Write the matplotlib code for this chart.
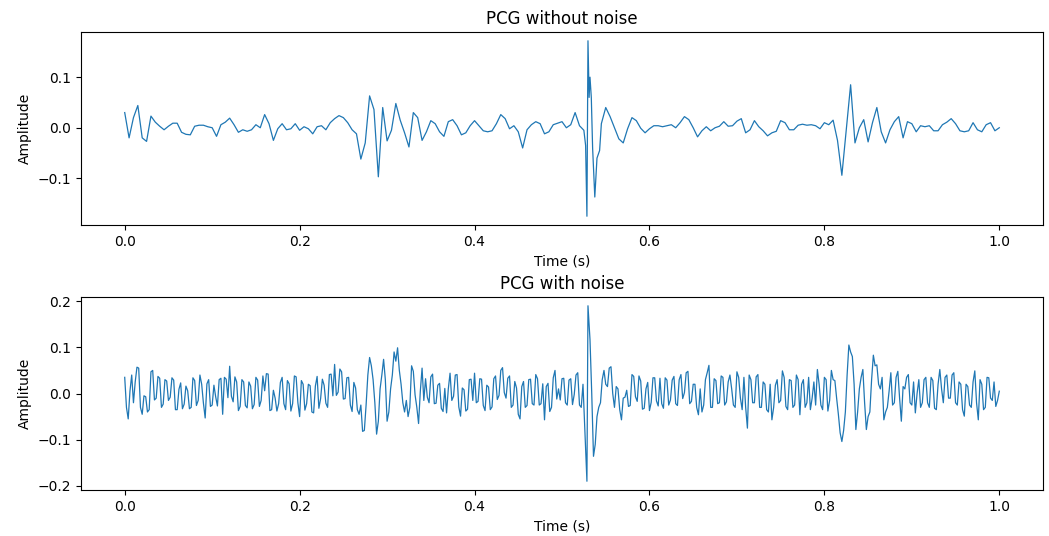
import numpy as np
import matplotlib
matplotlib.use("Agg")
import matplotlib.pyplot as plt

# clean PCG (0.005 s steps, finer around the big spike)
clean_a = [0.030, -0.020, 0.020, 0.044, -0.020, -0.027, 0.023, 0.011, 0.003, -0.004,
           0.003, 0.009, 0.009, -0.009, -0.013, -0.014, 0.003, 0.005, 0.005, 0.002,
           0.000, -0.017, 0.006, 0.011, 0.019, 0.006, -0.009, -0.004, -0.007, -0.004,
           0.006, 0.000, 0.026, 0.008, -0.025, -0.002, 0.008, -0.004, -0.002, 0.008,
           -0.005, 0.002, -0.002, -0.012, 0.002, 0.004, -0.004, 0.010, 0.018, 0.024,
           0.020, 0.010, -0.004, -0.012, -0.062, -0.030, 0.063, 0.036, -0.097, 0.040,
           -0.026, -0.005, 0.048, 0.015, -0.010, -0.038, 0.030, 0.020, -0.025, -0.008,
           0.014, 0.008, -0.008, -0.017, 0.012, 0.016, 0.004, -0.014, -0.010, 0.004,
           0.014, 0.004, -0.006, -0.008, -0.006, 0.008, 0.026, 0.018, -0.002, 0.004,
           -0.008, -0.040, -0.004, 0.006, 0.012, 0.008, -0.012, -0.008, 0.006, 0.009,
           0.012, 0.000, 0.006, 0.030, 0.004, -0.005]
spike_t = [0.527, 0.5285, 0.5297, 0.531, 0.532, 0.5335, 0.535, 0.5375, 0.540, 0.543]
spike_a = [-0.035, -0.175, 0.172, 0.060, 0.100, 0.060, -0.040, -0.137, -0.060, -0.045]
clean_b = [0.008, 0.040, 0.022, 0.000, -0.022, -0.030, -0.002, 0.020, 0.014, -0.001,
           -0.010, -0.002, 0.004, 0.004, 0.002, 0.004, 0.006, 0.000, 0.010, 0.022,
           0.016, 0.000, -0.018, -0.006, 0.002, -0.006, 0.000, 0.003, 0.012, 0.003,
           0.004, 0.013, 0.018, -0.010, -0.004, 0.014, 0.002, -0.006, -0.016, -0.010,
           -0.007, 0.014, 0.010, -0.004, -0.004, 0.005, 0.007, 0.005, 0.006, 0.004,
           -0.002, 0.010, 0.006, 0.015, -0.025, -0.094, -0.005, 0.085, -0.030, 0.000,
           0.016, -0.028, 0.010, 0.040, -0.008, -0.030, -0.004, 0.012, 0.022, -0.020,
           0.012, 0.008, -0.008, 0.004, 0.002, 0.004, -0.006, -0.006, 0.006, 0.011,
           0.018, 0.008, -0.006, -0.008, -0.006, 0.010, -0.004, -0.008, 0.006, 0.010,
           -0.006, 0.000]

# noisy PCG: samples every 0.004 s, mid samples at +0.002 s, two points at the spike
noisy_a = [0.035, -0.055, 0.040, 0.025, 0.055, -0.045, -0.007, -0.035, 0.050, -0.010,
           0.033, -0.023, 0.027, -0.008, 0.029, -0.035, 0.023, -0.023, 0.006, -0.030,
           0.028, -0.015, 0.020, -0.053, 0.030, -0.025, -0.007, 0.030, -0.045, 0.031,
           0.059, -0.018, 0.025, -0.028, 0.025, -0.031, 0.016, -0.024, 0.029, -0.015,
           0.006, 0.042, -0.035, -0.010, -0.022, 0.035, -0.035, 0.021, -0.022, 0.036,
           -0.050, 0.020, -0.022, 0.017, -0.042, 0.037, -0.011, 0.018, -0.030, 0.042,
           0.063, 0.003, 0.047, -0.011, 0.035, -0.039, 0.012, -0.045, -0.082, -0.025,
           0.078, 0.030, -0.088, 0.010, 0.074, -0.060, 0.010, 0.090, 0.099, 0.020,
           -0.040, -0.050, 0.060, -0.003, -0.065, 0.055, 0.032, -0.020, 0.042, -0.021,
           0.022, -0.039, -0.042, 0.044, -0.006, 0.041, -0.049, 0.008, -0.034, 0.031,
           0.044, -0.017, 0.031, -0.037, 0.014, -0.029, 0.038, -0.004, 0.056, -0.010,
           0.038, -0.025, 0.012, -0.055, 0.026, -0.026, 0.031, -0.025, 0.032, -0.022,
           -0.057, 0.022, -0.030, 0.050, 0.010, 0.032, -0.020, 0.029, -0.024, 0.040,
           -0.025, 0.020]
noisy_a_mid = [-0.030, 0.005, -0.020, 0.057, -0.030, -0.005, -0.040, 0.047, -0.014, 0.037,
               -0.030, 0.030, -0.015, 0.034, -0.035, 0.009, -0.033, 0.016, -0.033, 0.034,
               -0.026, 0.040, -0.021, 0.021, -0.028, 0.018, -0.027, 0.033, 0.035, -0.009,
               -0.006, 0.036, -0.037, 0.030, -0.026, 0.025, -0.033, 0.035, -0.028, 0.038,
               0.043, -0.037, 0.007, -0.038, 0.024, -0.022, 0.028, -0.038, 0.038, -0.020,
               0.028, -0.036, 0.020, -0.040, 0.016, -0.032, 0.031, -0.021, 0.041, -0.005,
               -0.004, 0.053, -0.012, 0.034, -0.025, 0.024, -0.035, -0.025, -0.080, 0.040,
               0.060, -0.020, -0.060, 0.040, 0.030, -0.040, 0.040, 0.070, 0.050, -0.020,
               -0.015, -0.030, 0.048, -0.030, 0.005, -0.015, -0.008, 0.036, -0.022, 0.018,
               -0.032, 0.011, 0.010, -0.015, 0.040, -0.029, 0.012, -0.038, 0.030, -0.015,
               -0.020, 0.032, -0.026, 0.018, -0.035, 0.032, -0.013, 0.050, 0.002, 0.033,
               -0.030, 0.026, -0.045, 0.015, -0.030, 0.030, -0.022, 0.041, -0.025, 0.021,
               0.015, -0.039, 0.034, -0.012, -0.014, 0.033, -0.025, 0.032, -0.002, 0.045,
               -0.030]
noisy_spike_t = [0.5285, 0.5297]
noisy_spike_a = [-0.190, 0.190]
noisy_b = [0.117, -0.136, -0.050, -0.020, 0.050, 0.015, 0.058, -0.030, 0.010, -0.057,
           -0.008, -0.028, 0.041, -0.007, 0.038, -0.034, 0.010, -0.037, 0.034, -0.016,
           0.033, -0.032, 0.029, -0.014, 0.037, -0.026, 0.041, 0.002, 0.048, -0.017,
           0.020, -0.046, -0.040, 0.030, 0.061, -0.030, 0.028, -0.020, 0.035, -0.018,
           0.040, -0.025, 0.047, -0.010, 0.035, -0.075, 0.030, -0.020, 0.041, -0.030,
           0.020, -0.040, -0.057, 0.018, -0.020, 0.049, -0.028, 0.030, -0.030, 0.040,
           -0.046, 0.030, -0.020, -0.035, 0.025, 0.052, -0.025, 0.035, -0.038, 0.050,
           0.028, -0.045, -0.104, -0.040, 0.105, 0.080, -0.078, 0.010, 0.052, -0.078,
           -0.040, 0.083, 0.062, 0.010, -0.057, -0.030, 0.045, -0.020, 0.048, -0.060,
           0.010, 0.041, -0.025, -0.042, 0.030, -0.020, 0.035, -0.030, 0.028, -0.035,
           0.052, -0.020, 0.040, -0.010, 0.045, -0.025, 0.020, -0.049, 0.015, -0.030,
           0.049, -0.057, 0.020, -0.030, 0.034, -0.015, -0.028, 0.005]
noisy_b_mid = [0.000, -0.110, -0.030, 0.030, 0.020, 0.055, 0.000, 0.015, -0.035, -0.010,
               0.007, -0.026, 0.037, -0.017, 0.027, -0.032, 0.024, -0.019, 0.034, -0.027,
               -0.022, 0.034, -0.025, 0.029, -0.022, 0.030, -0.011, 0.045, -0.022, 0.020,
               -0.030, 0.010, -0.025, 0.045, -0.030, 0.032, -0.022, 0.038, -0.025, 0.025,
               0.010, -0.030, 0.035, -0.035, -0.030, 0.040, -0.020, 0.036, -0.030, 0.025,
               -0.035, 0.020, -0.030, 0.030, -0.015, 0.035, -0.035, 0.028, -0.025, 0.030,
               0.020, -0.030, 0.035, -0.010, -0.025, 0.020, -0.035, 0.030, -0.015, 0.030,
               -0.010, -0.085, -0.080, 0.040, 0.090, 0.020, -0.040, 0.035, -0.020, -0.050,
               0.030, 0.060, 0.020, 0.035, -0.040, 0.005, -0.025, 0.035, -0.010, 0.015,
               0.035, -0.020, 0.025, 0.000, -0.030, 0.030, -0.020, 0.035, -0.032, 0.020,
               0.010, 0.035, -0.010, 0.040, -0.020, 0.025, -0.035, 0.020, -0.025, 0.025,
               -0.020, 0.030, -0.035, 0.035, -0.010, 0.025, -0.015]

t_clean = np.concatenate([np.linspace(0, 0.525, len(clean_a)), spike_t,
                          np.linspace(0.545, 1.0, len(clean_b))])
y_clean = np.concatenate([clean_a, spike_a, clean_b])

t_noisy = np.concatenate([np.linspace(0, 0.524, len(noisy_a)),
                          np.linspace(0.002, 0.522, len(noisy_a_mid)),
                          noisy_spike_t,
                          np.linspace(0.532, 1.0, len(noisy_b)),
                          np.linspace(0.534, 0.998, len(noisy_b_mid))])
y_noisy = np.concatenate([noisy_a, noisy_a_mid, noisy_spike_a, noisy_b, noisy_b_mid])
order = np.argsort(t_noisy)
t_noisy, y_noisy = t_noisy[order], y_noisy[order]

fig, (ax1, ax2) = plt.subplots(2, 1, figsize=(10.49, 5.36), dpi=100)
fig.subplots_adjust(left=0.0772, right=0.9943, top=0.9403, bottom=0.0858, hspace=0.373)

ax1.plot(t_clean, y_clean, color='#1f77b4', linewidth=0.9)
ax1.set_title("PCG without noise")
ax1.set_xlabel("Time (s)")
ax1.set_ylabel("Amplitude")

ax2.plot(t_noisy, y_noisy, color='#1f77b4', linewidth=0.9)
ax2.set_title("PCG with noise")
ax2.set_xlabel("Time (s)")
ax2.set_ylabel("Amplitude")

plt.savefig("out.png")
